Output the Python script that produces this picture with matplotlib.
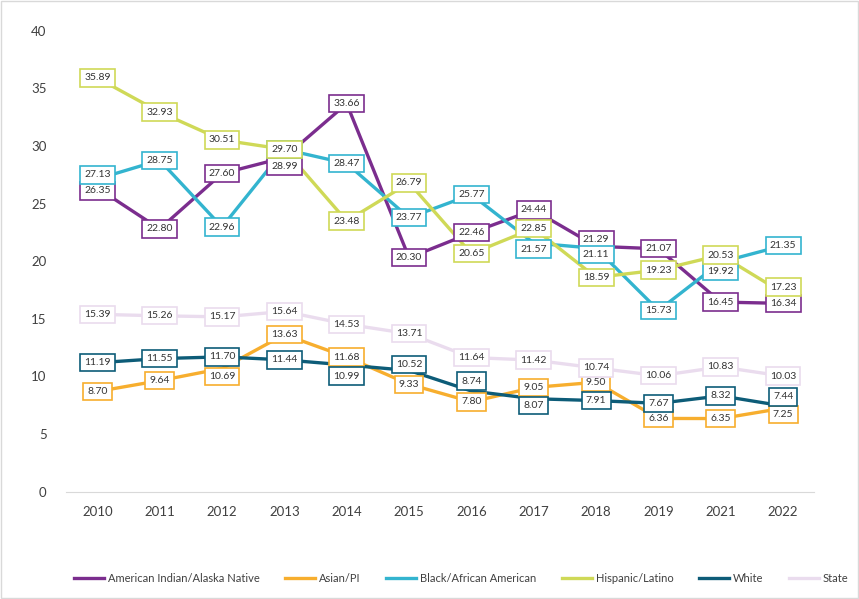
import matplotlib.pyplot as plt
from matplotlib.lines import Line2D

plt.rcParams['font.family'] = ['Lato', 'DejaVu Sans']

years = ["2010", "2011", "2012", "2013", "2014", "2015", "2016",
         "2017", "2018", "2019", "2021", "2022"]

aian = [26.35, 22.80, 27.60, 28.99, 33.66, 20.30, 22.46, 24.44, 21.29, 21.07, 16.45, 16.34]
asian_pi = [8.70, 9.64, 10.69, 13.63, 11.68, 9.33, 7.80, 9.05, 9.50, 6.36, 6.35, 7.25]
black = [27.13, 28.75, 22.96, 29.70, 28.47, 23.77, 25.77, 21.57, 21.11, 15.73, 19.92, 21.35]
hispanic = [35.89, 32.93, 30.51, 29.70, 23.48, 26.79, 20.65, 22.85, 18.59, 19.23, 20.53, 17.23]
white = [11.19, 11.55, 11.70, 11.44, 10.99, 10.52, 8.74, 8.07, 7.91, 7.67, 8.32, 7.44]
state = [15.39, 15.26, 15.17, 15.64, 14.53, 13.71, 11.64, 11.42, 10.74, 10.06, 10.83, 10.03]

names = ["American Indian/Alaska Native", "Asian/PI", "Black/African American",
         "Hispanic/Latino", "White", "State"]
colors = ["#7B2D8E", "#F7AE2E", "#33B4CF", "#CFD957", "#0D5C78", "#EADCEE"]
series = [aian, asian_pi, black, hispanic, white, state]

# label nudges (series index, year index) -> pixels downward, to keep boxes apart
nudge = {(2, 0): -4, (0, 0): 3, (0, 3): 9, (2, 7): 6, (0, 8): -7, (2, 8): 6,
         (2, 10): 9, (3, 11): -6, (4, 11): -9, (1, 11): 6, (4, 7): 7,
         (4, 5): -6, (4, 4): 11, (1, 2): 8, (4, 6): -10}

fig = plt.figure(figsize=(8.59, 5.99), dpi=100)
ax = fig.add_axes([0.077, 0.179, 0.871, 0.77])

x = list(range(len(years)))
order = [5, 0, 1, 2, 3, 4]
for i in order:
    ax.plot(x, series[i], color=colors[i], lw=2.4, zorder=2 + i * 0.01)
for i in order:
    for xi, v in zip(x, series[i]):
        dy = nudge.get((i, xi), 0) * 0.72
        ax.annotate(f"{v:.2f}", (xi, v), xytext=(0, -dy), textcoords='offset points',
                    ha='center', va='center', fontsize=7.5, color='#333333',
                    zorder=5 + i * 0.01,
                    bbox=dict(boxstyle='square,pad=0.4', fc='white',
                              ec=colors[i], lw=1.2))

ax.set_xlim(-0.5, len(years) - 0.5)
ax.set_ylim(0, 40)
ax.set_yticks(range(0, 41, 5))
ax.set_xticks(x)
ax.set_xticklabels(years)
ax.tick_params(axis='both', length=0, labelsize=9.5, colors='#404040')
ax.tick_params(axis='x', pad=10)
ax.tick_params(axis='y', pad=14)
for s in ['top', 'right', 'left']:
    ax.spines[s].set_visible(False)
ax.spines['bottom'].set_color('#D9D9D9')

handles = [Line2D([0], [0], color=c, lw=2.4) for c in colors]
fig.legend(handles, names, loc='center left', bbox_to_anchor=(0.086, 0.035), ncol=6,
           frameon=False, fontsize=8, handlelength=2.7, columnspacing=2.3,
           handletextpad=0.35, labelcolor='#404040', borderaxespad=0, borderpad=0)

fig.patches.append(plt.Rectangle((0.001, 0.001), 0.998, 0.998, transform=fig.transFigure,
                                 fill=False, ec='#D9D9D9', lw=1))

fig.savefig("out.png", dpi=100, facecolor='white')
